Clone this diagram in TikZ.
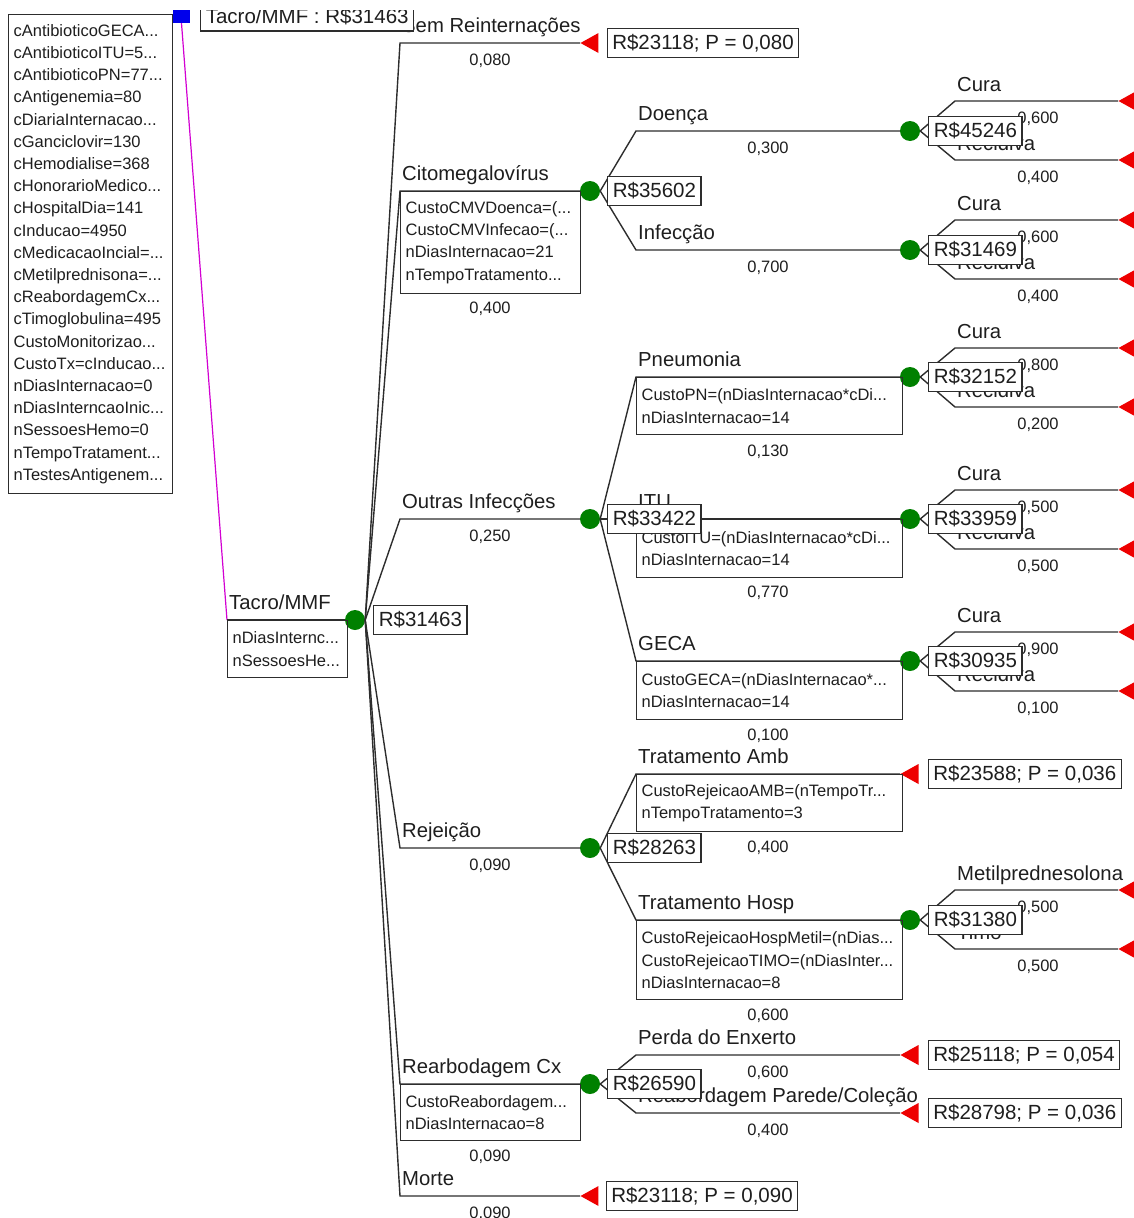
\documentclass[tikz,border=0pt]{standalone}
\usepackage{fontspec}
\setmainfont{Liberation Sans}
\usetikzlibrary{shapes.geometric,positioning}
\hyphenpenalty=10000
\exhyphenpenalty=10000
\definecolor{lineclr}{RGB}{45,45,45}
\definecolor{txtclr}{RGB}{30,30,30}
\definecolor{chanceclr}{RGB}{0,128,0}
\definecolor{termclr}{RGB}{238,0,0}
\definecolor{optclr}{RGB}{210,0,210}
\definecolor{decclr}{RGB}{0,0,235}
\tikzset{
  br/.style={draw=lineclr,line width=1.4pt},
  optbr/.style={draw=optclr,line width=1.2pt},
  decsq/.style={rectangle,fill=decclr,minimum width=17pt,minimum height=13pt,inner sep=0pt},
  chn/.style={circle,fill=chanceclr,minimum size=20pt,inner sep=0pt},
  term/.style={isosceles triangle,isosceles triangle apex angle=48,
    isosceles triangle stretches,shape border rotate=180,fill=termclr,inner sep=0pt,
    minimum width=20pt,minimum height=18pt,anchor=apex},
  valbox/.style={rectangle,draw=lineclr,line width=1.2pt,fill=white,
    font=\fontsize{20.5}{24}\selectfont,text=txtclr,
    inner xsep=5pt,inner ysep=0pt,minimum height=29pt},
  blbl/.style={anchor=base west,inner sep=0pt,font=\fontsize{20.3}{24}\selectfont,text=txtclr},
  prob/.style={anchor=base,inner sep=0pt,font=\fontsize{16.5}{20}\selectfont,text=txtclr},
  defbox/.style={rectangle,draw=lineclr,line width=1.2pt,anchor=north west,
    font=\fontsize{16.5}{22.2}\selectfont,
    text=txtclr,align=left,inner xsep=5pt,inner ysep=0pt},
}

\begin{document}
\begin{tikzpicture}[x=1pt,y=-1pt,node distance=8pt]
  \useasboundingbox (0,0) rectangle (1134,1218);
  \clip (0,10) rectangle (1134,1218);

  % decision node
  \node[decsq] (dec) at (181.5,16.5) {};
  \node[defbox,text width=154pt,minimum height=479pt] (decDefs) at (8,14)
    {cAntibioticoGECA...\\cAntibioticoITU=5...\\cAntibioticoPN=77...\\cAntigenemia=80\\
     cDiariaInternacao...\\cGanciclovir=130\\cHemodialise=368\\cHonorarioMedico...\\
     cHospitalDia=141\\cInducao=4950\\cMedicacaoIncial=...\\cMetilprednisona=...\\
     cReabordagemCx...\\cTimoglobulina=495\\CustoMonitorizao...\\CustoTx=cInducao...\\
     nDiasInternacao=0\\nDiasInterncaoInic...\\nSessoesHemo=0\\nTempoTratament...\\
     nTestesAntigenem...};
  \coordinate (tacroL) at (227,620);
  \node[chn] (root) at (355,620) {};
  \draw[optbr] (dec.south) -- (tacroL);
  \draw[br] (tacroL) -- (root);
  \node[blbl] (tacroLbl) at (229,609) {Tacro/MMF};
  \node[defbox,text width=110pt,minimum height=57pt] (tacroDefs) at (tacroL)
    {nDiasInternc...\\nSessoesHe...};

  % first level
  \coordinate (semL)   at (400,43);
  \coordinate (cmvL)   at (400,191);
  \coordinate (outL)   at (400,519);
  \coordinate (rejL)   at (400,848);
  \coordinate (reabL)  at (400,1084);
  \coordinate (morteL) at (400,1196);
  \node[term] (semT)   at (580,43) {};
  \node[chn]  (cmv)    at (590,191) {};
  \node[chn]  (outr)   at (590,519) {};
  \node[chn]  (rej)    at (590,848) {};
  \node[chn]  (reab)   at (590,1084) {};
  \node[term] (morteT) at (580,1196) {};
  \draw[br] (root.east) -- (semL) -- (semT.apex);
  \draw[br] (root.east) -- (cmvL) -- (cmv);
  \draw[br] (root.east) -- (outL) -- (outr);
  \draw[br] (root.east) -- (rejL) -- (rej);
  \draw[br] (root.east) -- (reabL) -- (reab);
  \draw[br] (root.east) -- (morteL) -- (morteT.apex);
  \node[blbl] (semLbl)   at (402,32)   {Sem Reinternações};
  \node[blbl] (cmvLbl)   at (402,180)  {Citomegalovírus};
  \node[blbl] (outLbl)   at (402,508)  {Outras Infecções};
  \node[blbl] (rejLbl)   at (402,837)  {Rejeição};
  \node[blbl] (reabLbl)  at (402,1073) {Rearbodagem Cx};
  \node[blbl] (morteLbl) at (402,1185) {Morte};
  \node[defbox,text width=170pt,minimum height=102pt] (cmvDefs) at (cmvL)
    {CustoCMVDoenca=(...\\CustoCMVInfecao=(...\\nDiasInternacao=21\\nTempoTratamento...};
  \node[defbox,text width=170pt,minimum height=56pt] (reabDefs) at (reabL)
    {CustoReabordagem...\\nDiasInternacao=8};
  \node[prob] (semP)   at (490,65)   {0,080};
  \node[prob] (cmvP)   at (490,313)  {0,400};
  \node[prob] (outP)   at (490,541)  {0,250};
  \node[prob] (rejP)   at (490,870)  {0,090};
  \node[prob] (reabP)  at (490,1161) {0,090};
  \node[prob] (morteP) at (490,1218) {0,090};

  % second level
  \coordinate (doeL)   at (636,131);
  \coordinate (infL)   at (636,250);
  \coordinate (pnL)    at (636,377);
  \coordinate (ituL)   at (636,519);
  \coordinate (gecaL)  at (636,661);
  \coordinate (ambL)   at (636,774);
  \coordinate (hospL)  at (636,920);
  \coordinate (perdaL) at (636,1055);
  \coordinate (parL)   at (636,1113);
  \node[chn]  (doe)    at (910,131) {};
  \node[chn]  (inf)    at (910,250) {};
  \node[chn]  (pn)     at (910,377) {};
  \node[chn]  (itu)    at (910,519) {};
  \node[chn]  (geca)   at (910,661) {};
  \node[term] (ambT)   at (900,774) {};
  \node[chn]  (hosp)   at (910,920) {};
  \node[term] (perdaT) at (900,1055) {};
  \node[term] (parT)   at (900,1113) {};
  \draw[br] (cmv.east)  -- (doeL)   -- (doe);
  \draw[br] (cmv.east)  -- (infL)   -- (inf);
  \draw[br] (outr.east) -- (pnL)    -- (pn);
  \draw[br] (outr.east) -- (ituL)   -- (itu);
  \draw[br] (outr.east) -- (gecaL)  -- (geca);
  \draw[br] (rej.east)  -- (ambL)   -- (ambT.apex);
  \draw[br] (rej.east)  -- (hospL)  -- (hosp);
  \draw[br] (reab.east) -- (perdaL) -- (perdaT.apex);
  \draw[br] (reab.east) -- (parL)   -- (parT.apex);
  \node[blbl] (doeLbl)   at (638,120)  {Doença};
  \node[blbl] (infLbl)   at (638,239)  {Infecção};
  \node[blbl] (pnLbl)    at (638,366)  {Pneumonia};
  \node[blbl] (ituLbl)   at (638,508)  {ITU};
  \node[blbl] (gecaLbl)  at (638,650)  {GECA};
  \node[blbl] (ambLbl)   at (638,763)  {Tratamento Amb};
  \node[blbl] (hospLbl)  at (638,909)  {Tratamento Hosp};
  \node[blbl] (perdaLbl) at (638,1044) {Perda do Enxerto};
  \node[blbl] (parLbl)   at (638,1102) {Reabordagem Parede/Coleção};
  \node[defbox,text width=256pt,minimum height=57pt] (pnDefs) at (pnL)
    {CustoPN=(nDiasInternacao*cDi...\\nDiasInternacao=14};
  \node[defbox,text width=256pt,minimum height=58pt] (ituDefs) at (ituL)
    {CustoITU=(nDiasInternacao*cDi...\\nDiasInternacao=14};
  \node[defbox,text width=256pt,minimum height=58pt] (gecaDefs) at (gecaL)
    {CustoGECA=(nDiasInternacao*...\\nDiasInternacao=14};
  \node[defbox,text width=256pt,minimum height=57pt] (ambDefs) at (ambL)
    {CustoRejeicaoAMB=(nTempoTr...\\nTempoTratamento=3};
  \node[defbox,text width=256pt,minimum height=79pt] (hospDefs) at (hospL)
    {CustoRejeicaoHospMetil=(nDias...\\CustoRejeicaoTIMO=(nDiasInter...\\nDiasInternacao=8};
  \node[prob] (doeP)   at (768,153)  {0,300};
  \node[prob] (infP)   at (768,272)  {0,700};
  \node[prob] (pnP)    at (768,456)  {0,130};
  \node[prob] (ituP)   at (768,597)  {0,770};
  \node[prob] (gecaP)  at (768,740)  {0,100};
  \node[prob] (ambP)   at (768,852)  {0,400};
  \node[prob] (hospP)  at (768,1020) {0,600};
  \node[prob] (perdaP) at (768,1077) {0,600};
  \node[prob] (parP)   at (768,1135) {0,400};

  % third level
  \coordinate (doeCuraL)  at (955,101);  \node[term] (doeCuraT)  at (1118,101) {};
  \coordinate (doeRecL)   at (955,160);  \node[term] (doeRecT)   at (1118,160) {};
  \coordinate (infCuraL)  at (955,220);  \node[term] (infCuraT)  at (1118,220) {};
  \coordinate (infRecL)   at (955,279);  \node[term] (infRecT)   at (1118,279) {};
  \coordinate (pnCuraL)   at (955,348);  \node[term] (pnCuraT)   at (1118,348) {};
  \coordinate (pnRecL)    at (955,407);  \node[term] (pnRecT)    at (1118,407) {};
  \coordinate (ituCuraL)  at (955,490);  \node[term] (ituCuraT)  at (1118,490) {};
  \coordinate (ituRecL)   at (955,549);  \node[term] (ituRecT)   at (1118,549) {};
  \coordinate (gecaCuraL) at (955,632);  \node[term] (gecaCuraT) at (1118,632) {};
  \coordinate (gecaRecL)  at (955,691);  \node[term] (gecaRecT)  at (1118,691) {};
  \coordinate (metilL)    at (955,890);  \node[term] (metilT)    at (1118,890) {};
  \coordinate (timoL)     at (955,949);  \node[term] (timoT)     at (1118,949) {};
  \draw[br] (doe.east)  -- (doeCuraL)  -- (doeCuraT.apex);
  \draw[br] (doe.east)  -- (doeRecL)   -- (doeRecT.apex);
  \draw[br] (inf.east)  -- (infCuraL)  -- (infCuraT.apex);
  \draw[br] (inf.east)  -- (infRecL)   -- (infRecT.apex);
  \draw[br] (pn.east)   -- (pnCuraL)   -- (pnCuraT.apex);
  \draw[br] (pn.east)   -- (pnRecL)    -- (pnRecT.apex);
  \draw[br] (itu.east)  -- (ituCuraL)  -- (ituCuraT.apex);
  \draw[br] (itu.east)  -- (ituRecL)   -- (ituRecT.apex);
  \draw[br] (geca.east) -- (gecaCuraL) -- (gecaCuraT.apex);
  \draw[br] (geca.east) -- (gecaRecL)  -- (gecaRecT.apex);
  \draw[br] (hosp.east) -- (metilL)    -- (metilT.apex);
  \draw[br] (hosp.east) -- (timoL)     -- (timoT.apex);
  \node[blbl] at (957,91)  {Cura};  \node[blbl] at (957,150) {Recidiva};
  \node[blbl] at (957,210) {Cura};  \node[blbl] at (957,269) {Recidiva};
  \node[blbl] at (957,338) {Cura};  \node[blbl] at (957,397) {Recidiva};
  \node[blbl] at (957,480) {Cura};  \node[blbl] at (957,539) {Recidiva};
  \node[blbl] at (957,622) {Cura};  \node[blbl] at (957,681) {Recidiva};
  \node[blbl] at (957,880) {Metilprednesolona};  \node[blbl] at (957,939) {Timo};
  \node[prob] at (1038,123) {0,600};  \node[prob] at (1038,182) {0,400};
  \node[prob] at (1038,242) {0,600};  \node[prob] at (1038,301) {0,400};
  \node[prob] at (1038,370) {0,800};  \node[prob] at (1038,429) {0,200};
  \node[prob] at (1038,512) {0,500};  \node[prob] at (1038,571) {0,500};
  \node[prob] at (1038,654) {0,900};  \node[prob] at (1038,713) {0,100};
  \node[prob] at (1038,912) {0,500};  \node[prob] at (1038,971) {0,500};

  % expected values
  \node[valbox,right=10pt of dec]  (decV)  {Tacro/MMF : R\$31463};
  \node[valbox,right=8pt of root]  (rootV) {R\$31463};
  \node[valbox,right=8pt of semT.lower side]    (semV)   {R\$23118; P = 0,080};
  \node[valbox,right=7pt of cmv]   (cmvV)  {R\$35602};
  \node[valbox,right=7pt of outr]  (outV)  {R\$33422};
  \node[valbox,right=7pt of rej]   (rejV)  {R\$28263};
  \node[valbox,right=7pt of reab]  (reabV) {R\$26590};
  \node[valbox,right=7pt of morteT.lower side]  (morteV) {R\$23118; P = 0,090};
  \node[valbox,right=8pt of doe]   (doeV)  {R\$45246};
  \node[valbox,right=8pt of inf]   (infV)  {R\$31469};
  \node[valbox,right=8pt of pn]    (pnV)   {R\$32152};
  \node[valbox,right=8pt of itu]   (ituV)  {R\$33959};
  \node[valbox,right=8pt of geca]  (gecaV) {R\$30935};
  \node[valbox,right=8pt of hosp]  (hospV) {R\$31380};
  \node[valbox,right=9pt of ambT.lower side]    (ambV)   {R\$23588; P = 0,036};
  \node[valbox,right=9pt of perdaT.lower side]  (perdaV) {R\$25118; P = 0,054};
  \node[valbox,right=9pt of parT.lower side]    (parV)   {R\$28798; P = 0,036};
\end{tikzpicture}
\end{document}
